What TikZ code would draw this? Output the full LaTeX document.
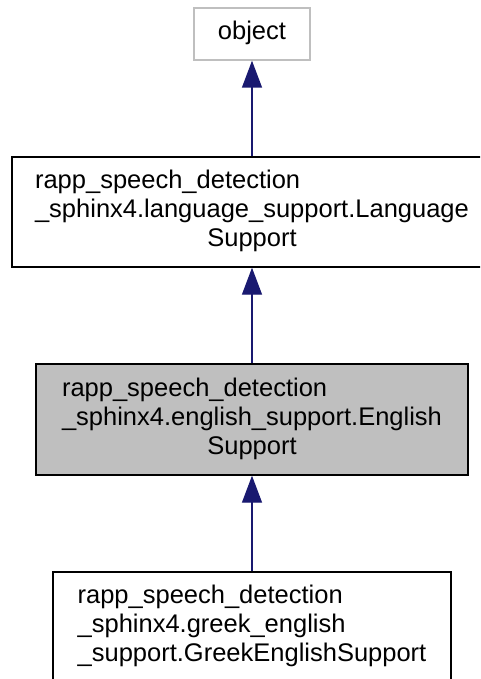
\documentclass[tikz,border=0pt]{standalone}
\usepackage{fontspec}
\setmainfont{Liberation Sans}
\usetikzlibrary{arrows.meta}
\definecolor{edgeblue}{HTML}{191970}
\definecolor{boxgray}{HTML}{BFBFBF}
\tikzset{
  cls/.style={draw=black, line width=1.4pt, rectangle, inner sep=0pt,
    font=\fontsize{25.5}{29}\selectfont},
  inherit/.style={draw=edgeblue, line width=1.4pt,
    {Triangle[length=27pt,width=20pt,fill=edgeblue]}-},
}
\begin{document}
\begin{tikzpicture}[x=1pt,y=-1pt]
\useasboundingbox (0,0) rectangle (480,679);
\clip (0,0) rectangle (480,679);
\fill[white] (0,0) rectangle (480,679);
\node[cls, draw=boxgray, minimum width=116pt, minimum height=52pt] (obj) at (252,34)
  {\begin{tabular}{@{}c@{}}object\end{tabular}};
\node[cls, minimum width=480pt, minimum height=110pt] (lang) at (252,212)
  {\begin{tabular}{@{}l@{}}rapp\_speech\_detection\\ \_sphinx4.language\_support.Language\\ \multicolumn{1}{@{}c@{}}{Support}\end{tabular}};
\node[cls, fill=boxgray, minimum width=432pt, minimum height=111pt] (eng) at (252,419.5)
  {\begin{tabular}{@{}l@{}}rapp\_speech\_detection\\ \_sphinx4.english\_support.English\\ \multicolumn{1}{@{}c@{}}{Support}\end{tabular}};
\node[cls, minimum width=398pt, minimum height=110pt] (greek) at (252,627)
  {\begin{tabular}{@{}l@{}}rapp\_speech\_detection\\ \_sphinx4.greek\_english\\ \multicolumn{1}{@{}c@{}}{\_support.GreekEnglishSupport}\end{tabular}};
\draw[inherit] (obj.south) -- (lang.north);
\draw[inherit] (lang.south) -- (eng.north);
\draw[inherit] (eng.south) -- (greek.north);
\end{tikzpicture}
\end{document}
